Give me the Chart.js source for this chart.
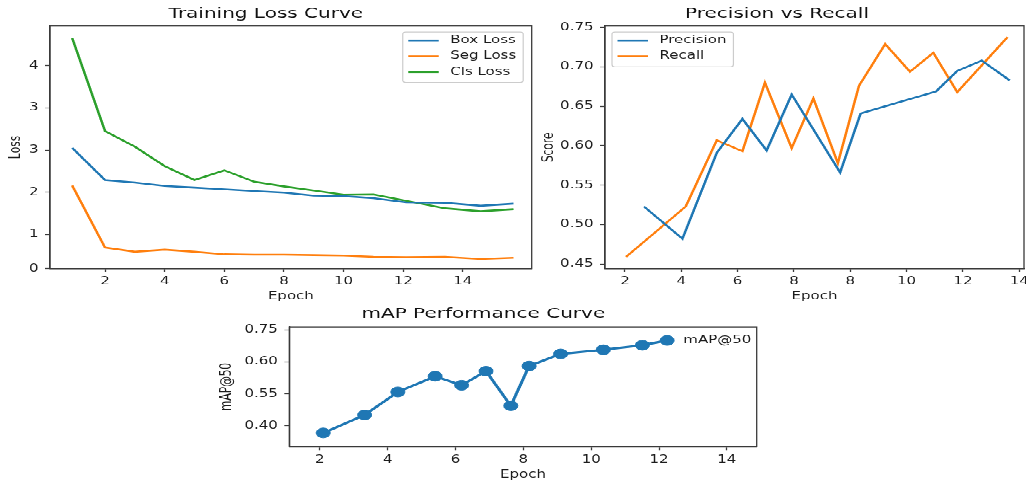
<!DOCTYPE html>
<html><head><meta charset="utf-8">
<script src="https://cdn.jsdelivr.net/npm/chart.js@4.4.1/dist/chart.umd.min.js"></script>
<style>
html,body{margin:0;padding:0;width:1026px;height:484px;overflow:hidden;background:#fff;}
#stage{position:absolute;left:0;top:0;width:1026px;height:684px;overflow:hidden;transform:scaleY(0.707602);transform-origin:0 0;}
canvas{position:absolute;}
</style></head><body>
<div id="stage">
<canvas id="c1" width="568" height="428" style="left:0px;top:0px;width:568px;height:428px"></canvas>
<canvas id="c2" width="550" height="428" style="left:530px;top:0px;width:550px;height:428px"></canvas>
<canvas id="c3" width="603" height="255" style="left:210px;top:425px;width:603px;height:255px"></canvas>
</div>
<script>
// ---- Training Loss Curve ----
const lossEpochs = [0.9, 2, 3, 4, 5, 6, 7, 8, 9, 10, 11, 12.1, 13.4, 14.6, 15.7];
const boxLoss = [3.05, 2.29, 2.23, 2.15, 2.11, 2.07, 2.03, 1.99, 1.92, 1.91, 1.86, 1.76, 1.75, 1.68, 1.73];
const segLoss = [2.16, 0.69, 0.59, 0.64, 0.59, 0.53, 0.52, 0.52, 0.51, 0.50, 0.47, 0.46, 0.47, 0.42, 0.45];
const clsLoss = [5.65, 3.45, 3.08, 2.62, 2.29, 2.52, 2.25, 2.14, 2.04, 1.94, 1.95, 1.80, 1.62, 1.55, 1.60];
const lossXTicks = [2, 4, 6, 8, 10, 12, 14];
const lossXLabels = ['2', '4', '6', '8', '10', '12', '14'];
const lossYTicks = [0.19, 1, 2, 3, 4, 5];
const lossYLabels = ['0', '1', '2', '3', '3', '4'];

// ---- Precision vs Recall ----
const precEpochs = [2.67, 4.04, 5.26, 6.17, 7.03, 7.92, 9.64, 10.37, 13.05, 13.80, 14.67, 15.66];
const precision = [0.523, 0.482, 0.591, 0.634, 0.594, 0.665, 0.566, 0.641, 0.669, 0.695, 0.708, 0.683];
const recEpochs = [2.04, 4.16, 5.26, 6.17, 6.97, 7.92, 8.69, 9.56, 10.31, 11.24, 12.12, 12.95, 13.80, 15.59];
const recall = [0.459, 0.523, 0.607, 0.593, 0.680, 0.597, 0.660, 0.578, 0.676, 0.729, 0.694, 0.718, 0.668, 0.738];
const prXTicks = [2, 4, 6, 8, 10, 12, 14, 16];
const prXLabels = ['2', '4', '6', '8', '8', '10', '12', '14'];
const prYTicks = [0.45, 0.50, 0.55, 0.60, 0.65, 0.70, 0.75];
const prYLabels = ['0.45', '0.50', '0.55', '0.60', '0.65', '0.70', '0.75'];

// ---- mAP Performance Curve ----
const mapEpochs = [2.10, 3.32, 4.30, 5.40, 6.18, 6.90, 7.63, 8.17, 9.10, 10.36, 11.51, 12.24];
const map50 = [0.428, 0.484, 0.556, 0.605, 0.577, 0.621, 0.513, 0.637, 0.675, 0.688, 0.702, 0.717];
const mapXTicks = [2, 4, 6, 8, 10, 12, 14];
const mapXLabels = ['2', '4', '6', '8', '10', '12', '14'];
const mapYTicks = [0.45, 0.55, 0.65, 0.75];
const mapYLabels = ['0.40', '0.55', '0.60', '0.75'];

const FONT = '"DejaVu Sans", "Noto Sans", sans-serif';
const TXT = '#1c1c1c';
const FRAME = '#3a3a3a';
const BLUE = '#1f77b4', ORANGE = '#ff7f0e', GREEN = '#2ca02c';
const LW = 2.6;
Chart.defaults.font.family = FONT;
Chart.defaults.color = TXT;

const decor = {
  id: 'mplDecor',
  afterDatasetsDraw(chart, args, opts) {
    const ctx = chart.ctx, ca = chart.chartArea;
    ctx.save();
    ctx.strokeStyle = FRAME; ctx.lineWidth = 1.3;
    ctx.strokeRect(ca.left, ca.top, ca.right - ca.left, ca.bottom - ca.top);
    const lg = opts && opts.legend;
    if (lg) {
      ctx.font = '15px ' + FONT;
      const items = chart.data.datasets.map(d => ({text: d.label, color: d.borderColor}));
      ctx.textBaseline = 'middle'; ctx.textAlign = 'left';
      if (lg.textOnly) {
        ctx.fillStyle = TXT;
        ctx.fillText(items[0].text, ca.right - lg.fromRight, ca.top + lg.fromTop);
      } else {
        const tw = Math.max(...items.map(i => ctx.measureText(i.text).width));
        const w = 5.5 + 30.5 + 11.5 + tw + 7;
        const h = 12 + (items.length - 1) * 22.3 + 14.8;
        const x = lg.corner === 'ne' ? ca.right - 8.5 - w : ca.left + 7;
        const y = ca.top + 8.5;
        ctx.beginPath();
        if (ctx.roundRect) ctx.roundRect(x, y, w, h, 3); else ctx.rect(x, y, w, h);
        ctx.fillStyle = 'rgba(255,255,255,0.8)'; ctx.fill();
        ctx.strokeStyle = '#cccccc'; ctx.lineWidth = 1.2; ctx.stroke();
        items.forEach((it, i) => {
          const cy = y + 12 + i * 22.3;
          ctx.beginPath(); ctx.moveTo(x + 5.5, cy); ctx.lineTo(x + 36, cy);
          ctx.strokeStyle = it.color; ctx.lineWidth = LW; ctx.stroke();
          ctx.fillStyle = TXT;
          ctx.fillText(it.text, x + 47.5, cy);
        });
      }
    }
    ctx.restore();
  }
};

function axis(o) {
  return {
    type: 'linear', min: o.min, max: o.max,
    afterBuildTicks: s => { s.ticks = o.ticks.map(v => ({value: v})); },
    afterFit: s => { if (s.isHorizontal()) s.height = o.size; else s.width = o.size; },
    ticks: { autoSkip: false, maxRotation: 0, minRotation: 0, padding: o.tickPad,
             font: {size: 15}, color: TXT, callback: (v, i) => o.labels[i] },
    grid: { display: true, drawOnChartArea: false, drawTicks: true, tickLength: 5, tickWidth: 1.3, tickColor: FRAME },
    border: { display: true, color: FRAME, width: 1.3 },
    title: { display: true, text: o.title, font: {size: 15}, color: TXT, padding: o.titlePad }
  };
}

function pts(xs, ys) { return xs.map((x, i) => ({x: x, y: ys[i]})); }

function baseOptions(title, titlePad, padRight, xAxis, yAxis, legend) {
  return {
    responsive: false, maintainAspectRatio: false, animation: false, devicePixelRatio: 1,
    layout: { padding: { left: 0, right: padRight, top: 0, bottom: 0 } },
    plugins: {
      legend: { display: false }, tooltip: { enabled: false },
      title: { display: true, text: title, font: {size: 20, weight: 'normal'}, color: '#111', padding: titlePad },
      mplDecor: { legend: legend }
    },
    scales: { x: xAxis, y: yAxis },
    elements: { line: { tension: 0, borderWidth: LW }, point: { radius: 0 } }
  };
}

new Chart(document.getElementById('c1'), {
  type: 'line',
  data: { datasets: [
    { label: 'Box Loss', data: pts(lossEpochs, boxLoss), borderColor: BLUE, backgroundColor: BLUE },
    { label: 'Seg Loss', data: pts(lossEpochs, segLoss), borderColor: ORANGE, backgroundColor: ORANGE },
    { label: 'Cls Loss', data: pts(lossEpochs, clsLoss), borderColor: GREEN, backgroundColor: GREEN }
  ]},
  options: baseOptions('Training Loss Curve', {top: 7.5, bottom: 5.2}, 36.3,
    axis({min: 0.154, max: 16.31, ticks: lossXTicks, labels: lossXLabels, size: 48.3, tickPad: 4.5, title: 'Epoch', titlePad: {top: 0, bottom: 0}}),
    axis({min: 0.19, max: 5.94, ticks: lossYTicks, labels: lossYLabels, size: 50, tickPad: 6.5, title: 'Loss', titlePad: {top: 7, bottom: 0}}),
    {corner: 'ne'}),
  plugins: [decor]
});

new Chart(document.getElementById('c2'), {
  type: 'line',
  data: { datasets: [
    { label: 'Precision', data: pts(precEpochs, precision), borderColor: BLUE, backgroundColor: BLUE },
    { label: 'Recall', data: pts(recEpochs, recall), borderColor: ORANGE, backgroundColor: ORANGE }
  ]},
  options: baseOptions('Precision vs Recall', {top: 7.5, bottom: 5.2}, 56,
    axis({min: 1.29, max: 16.17, ticks: prXTicks, labels: prXLabels, size: 48.3, tickPad: 4.5, title: 'Epoch', titlePad: {top: 0, bottom: 0}}),
    axis({min: 0.444, max: 0.752, ticks: prYTicks, labels: prYLabels, size: 75, tickPad: 6.5, title: 'Score', titlePad: {top: 10.3, bottom: 0}}),
    {corner: 'nw'}),
  plugins: [decor]
});

new Chart(document.getElementById('c3'), {
  type: 'line',
  data: { datasets: [
    { label: 'mAP@50', data: pts(mapEpochs, map50), borderColor: BLUE, backgroundColor: BLUE,
      borderWidth: 3.2, pointRadius: 7, pointBackgroundColor: BLUE, pointBorderColor: BLUE, pointBorderWidth: 1 }
  ]},
  options: baseOptions('mAP Performance Curve', {top: 7.2, bottom: 5.9}, 56.3,
    axis({min: 1.10, max: 14.88, ticks: mapXTicks, labels: mapXLabels, size: 48.7, tickPad: 4.5, title: 'Epoch', titlePad: {top: 0, bottom: 0}}),
    axis({min: 0.385, max: 0.759, ticks: mapYTicks, labels: mapYLabels, size: 79.3, tickPad: 6.5, title: 'mAP@50', titlePad: {top: 7.7, bottom: 0}}),
    {textOnly: true, fromRight: 73.4, fromTop: 19.4}),
  plugins: [decor]
});
</script>
</body></html>
